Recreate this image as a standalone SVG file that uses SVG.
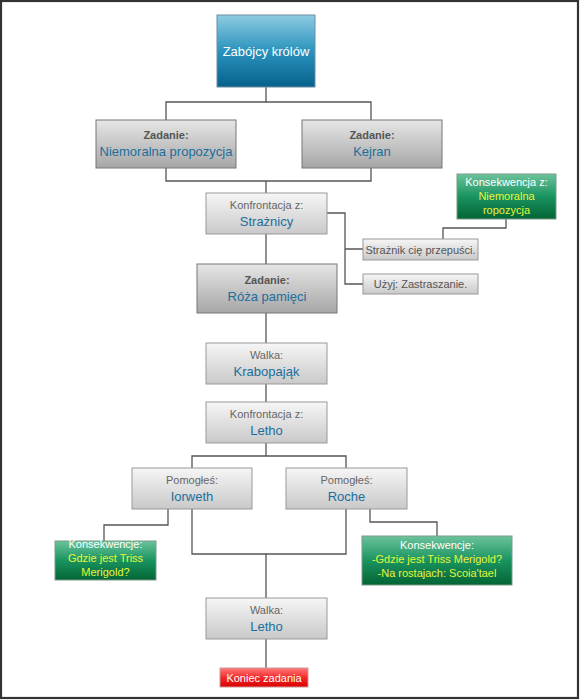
<svg xmlns="http://www.w3.org/2000/svg" width="580" height="700" viewBox="0 0 580 700">
<defs>
<linearGradient id="gBlue" x1="0" y1="0" x2="0" y2="1"><stop offset="0" stop-color="#8fcbe2"/><stop offset="0.5" stop-color="#2a93bd"/><stop offset="1" stop-color="#07618c"/></linearGradient>
<linearGradient id="gLight" x1="0" y1="0" x2="0" y2="1"><stop offset="0" stop-color="#f6f6f6"/><stop offset="1" stop-color="#c9c9c9"/></linearGradient>
<linearGradient id="gDark" x1="0" y1="0" x2="0" y2="1"><stop offset="0" stop-color="#e6e6e6"/><stop offset="1" stop-color="#a6a6a6"/></linearGradient>
<linearGradient id="gGreen" x1="0" y1="0" x2="0" y2="1"><stop offset="0" stop-color="#6cc39b"/><stop offset="0.5" stop-color="#199460"/><stop offset="1" stop-color="#036434"/></linearGradient>
<linearGradient id="gRed" x1="0" y1="0" x2="0" y2="1"><stop offset="0" stop-color="#ff7a7a"/><stop offset="0.5" stop-color="#f52a2a"/><stop offset="1" stop-color="#d80000"/></linearGradient>
</defs>
<style>
text{font-family:"Liberation Sans",Arial,sans-serif;text-anchor:middle}
.lbl{font-size:11px;fill:#666}
.lblb{font-size:11px;fill:#555;font-weight:bold}
.nm{font-size:13px;fill:#1b6e9c}
.wt{font-size:11px;fill:#ffffff}
.yl{font-size:11px;fill:#e8f53a}
.sm{font-size:11px;fill:#555}
.light{fill:url(#gLight);stroke:#999;stroke-width:1}
.dark{fill:url(#gDark);stroke:#777;stroke-width:1}
.green{fill:url(#gGreen);stroke:#7a9a88;stroke-width:1}
.conn{fill:none;stroke:#555;stroke-width:1.3}
</style>
<rect x="0" y="0" width="580" height="700" fill="#ffffff"/>
<rect x="1" y="1" width="577" height="697" fill="none" stroke="#333" stroke-width="2.2"/>

<g id="connectors">
<path class="conn" d="M266 87V102M166 120V102H371V120"/>
<path class="conn" d="M166 168V181H371V168M266 181V193"/>
<path class="conn" d="M266 234V264"/>
<path class="conn" d="M327 213H345V284H363M345 249H363"/>
<path class="conn" d="M506 219V228H443V239"/>
<path class="conn" d="M266 313V343"/>
<path class="conn" d="M266 384V402"/>
<path class="conn" d="M266 443V456M192 468V456H346V468"/>
<path class="conn" d="M168 509V525H104V541"/>
<path class="conn" d="M192 509V554H346V509M266 554V598"/>
<path class="conn" d="M370 509V522H437V536"/>
<path class="conn" d="M266 639V668"/>
</g>

<g id="n-top">
<rect x="217" y="15" width="98" height="72" fill="url(#gBlue)" stroke="#6a8fa3" stroke-width="1"/>
<text x="266" y="56" style="font-size:13px;fill:#ffffff">Zabójcy królów</text>
</g>

<g id="n-niemoralna">
<rect class="dark" x="96" y="120" width="140" height="48"/>
<text class="lblb" x="166" y="139">Zadanie:</text>
<text class="nm" x="166" y="156">Niemoralna propozycja</text>
</g>

<g id="n-kejran">
<rect class="dark" x="302" y="120" width="140" height="48"/>
<text class="lblb" x="372" y="139">Zadanie:</text>
<text class="nm" x="372" y="156">Kejran</text>
</g>

<g id="n-straznicy">
<rect class="light" x="206" y="193" width="121" height="41"/>
<text class="lbl" x="266.5" y="209">Konfrontacja z:</text>
<text class="nm" x="266.5" y="226">Strażnicy</text>
</g>

<g id="n-konsekwencja-top">
<rect class="green" x="457" y="174" width="99" height="45"/>
<text class="wt" x="506.5" y="186">Konsekwencja z:</text>
<text class="yl" x="506.5" y="200">Niemoralna</text>
<text class="yl" x="506.5" y="214">ropozycja</text>
</g>

<g id="n-straznik">
<rect class="light" x="363" y="239" width="115" height="21"/>
<text class="sm" x="420.5" y="253.5">Strażnik cię przepuści.</text>
</g>

<g id="n-uzyj">
<rect class="light" x="363" y="274" width="115" height="20"/>
<text class="sm" x="420.5" y="288">Użyj: Zastraszanie.</text>
</g>

<g id="n-roza">
<rect class="dark" x="197" y="264" width="140" height="49"/>
<text class="lblb" x="267" y="284">Zadanie:</text>
<text class="nm" x="267" y="301">Róża pamięci</text>
</g>

<g id="n-krabopajak">
<rect class="light" x="206" y="343" width="121" height="41"/>
<text class="lbl" x="266.5" y="359">Walka:</text>
<text class="nm" x="266.5" y="376">Krabopająk</text>
</g>

<g id="n-letho-konf">
<rect class="light" x="206" y="402" width="121" height="41"/>
<text class="lbl" x="266.5" y="418">Konfrontacja z:</text>
<text class="nm" x="266.5" y="435">Letho</text>
</g>

<g id="n-iorweth">
<rect class="light" x="132" y="468" width="120" height="41"/>
<text class="lbl" x="192" y="484">Pomogłeś:</text>
<text class="nm" x="192" y="501">Iorweth</text>
</g>

<g id="n-roche">
<rect class="light" x="286" y="468" width="121" height="41"/>
<text class="lbl" x="346.5" y="484">Pomogłeś:</text>
<text class="nm" x="346.5" y="501">Roche</text>
</g>

<g id="n-konsekwencje-left">
<rect class="green" x="55" y="541" width="101" height="39"/>
<text class="wt" x="105.5" y="548">Konsekwencje:</text>
<text class="yl" x="105.5" y="562">Gdzie jest Triss</text>
<text class="yl" x="105.5" y="576">Merigold?</text>
</g>

<g id="n-konsekwencje-right">
<rect class="green" x="362" y="536" width="150" height="49"/>
<text class="wt" x="437" y="549">Konsekwencje:</text>
<text class="yl" x="437" y="563">-Gdzie jest Triss Merigold?</text>
<text class="yl" x="437" y="577">-Na rostajach: Scoia'tael</text>
</g>

<g id="n-walka-letho">
<rect class="light" x="206" y="598" width="121" height="41"/>
<text class="lbl" x="266.5" y="614">Walka:</text>
<text class="nm" x="266.5" y="631">Letho</text>
</g>

<g id="n-koniec">
<rect x="220" y="668" width="88" height="19" fill="url(#gRed)" stroke="#c99" stroke-width="1"/>
<text x="264" y="682" style="font-size:11px;fill:#ffffff">Koniec zadania</text>
</g>
</svg>
